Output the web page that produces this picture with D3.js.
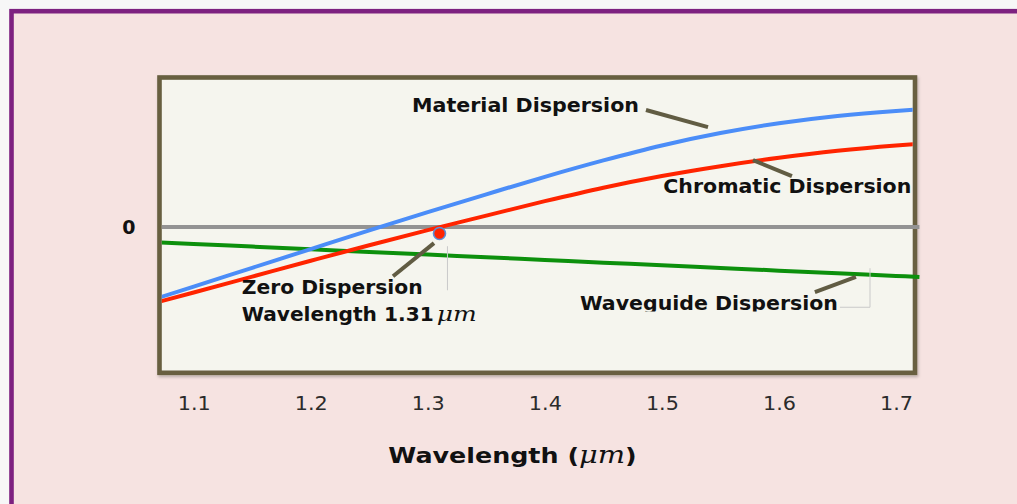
<!DOCTYPE html>
<html>
<head>
<meta charset="utf-8">
<script src="https://cdn.jsdelivr.net/npm/d3@7"></script>
<style>
  html, body { margin: 0; padding: 0; background: #f7f7f7; }
  svg { display: block; }
</style>
</head>
<body>
<svg id="chart" width="1017" height="504"></svg>
<script>
// Wavelength samples (µm) and dispersion curves (arbitrary units, 0 = no dispersion)
const wavelengths = [1.07, 1.10, 1.15, 1.20, 1.25, 1.30, 1.35, 1.40, 1.45, 1.50, 1.55, 1.60, 1.65, 1.70, 1.72];
const materialDispersion = [-9.71, -8.17, -5.60, -3.03, -0.47, 2.03, 4.48, 6.88, 9.13, 11.18, 12.88, 14.23, 15.23, 15.91, 16.12];
const chromaticDispersion = [-10.27, -8.98, -6.81, -4.64, -2.50, -0.43, 1.55, 3.54, 5.39, 6.99, 8.34, 9.49, 10.44, 11.16, 11.40];
const waveguideDispersion = [-2.11, -2.32, -2.69, -3.06, -3.42, -3.79, -4.15, -4.52, -4.89, -5.24, -5.62, -5.99, -6.34, -6.71, -6.85];
const zeroLevel = [0, 0, 0, 0, 0, 0, 0, 0, 0, 0, 0, 0, 0, 0, 0];

const xTickValues = [1.1, 1.2, 1.3, 1.4, 1.5, 1.6, 1.7];
const yTickValues = [0];

const zeroWavelength = 1.31;   // µm
const zeroMarkerValue = -0.9;

const svg = d3.select("#chart");
const W = 1017, H = 504;

// plot frame geometry
const frame = { left: 159.5, top: 77.5, right: 915, bottom: 372.8, stroke: 4.6 };
const inner = { left: frame.left + 2.3, right: frame.right - 2.3, top: frame.top + 2.3, bottom: frame.bottom - 2.3 };

const x = d3.scaleLinear().domain([1.1, 1.7]).range([193.7, 896]);
const y = d3.scaleLinear().domain([-20, 20.5]).range([frame.bottom, frame.top]);

const defs = svg.append("defs");
defs.append("clipPath").attr("id", "clip-inner")
  .append("rect").attr("x", inner.left).attr("y", inner.top)
  .attr("width", inner.right - inner.left).attr("height", inner.bottom - inner.top);
defs.append("clipPath").attr("id", "clip-overlay")
  .append("rect").attr("x", inner.left).attr("y", inner.top)
  .attr("width", 921 - inner.left).attr("height", inner.bottom - inner.top);
const shadow = defs.append("filter").attr("id", "frame-shadow")
  .attr("x", "-5%").attr("y", "-5%").attr("width", "110%").attr("height", "115%");
shadow.append("feDropShadow").attr("dx", 1).attr("dy", 2).attr("stdDeviation", 1.5)
  .attr("flood-color", "#000").attr("flood-opacity", 0.25);

// outer panel with purple border
svg.append("rect").attr("x", 0).attr("y", 0).attr("width", W).attr("height", H).attr("fill", "#f7f7f7");
svg.append("rect")
  .attr("x", 11.5).attr("y", 11.2).attr("width", 1100).attr("height", 1000)
  .attr("fill", "#f6e3e1").attr("stroke", "#7d2180").attr("stroke-width", 4.6);

// plot area
svg.append("rect")
  .attr("x", frame.left).attr("y", frame.top)
  .attr("width", frame.right - frame.left).attr("height", frame.bottom - frame.top)
  .attr("fill", "#f5f5ee").attr("stroke", "#675f40").attr("stroke-width", frame.stroke)
  .attr("filter", "url(#frame-shadow)");

const line = d3.line()
  .x((d, i) => x(wavelengths[i]))
  .y(d => y(d))
  .curve(d3.curveMonotoneX);

const overlay = svg.append("g").attr("clip-path", "url(#clip-overlay)");
const innerG = svg.append("g").attr("clip-path", "url(#clip-inner)");

overlay.append("path").attr("d", line(zeroLevel))
  .attr("fill", "none").attr("stroke", "#939393").attr("stroke-width", 4);
overlay.append("path").attr("d", line(waveguideDispersion))
  .attr("fill", "none").attr("stroke", "#0c900c").attr("stroke-width", 4);
innerG.append("path").attr("d", line(materialDispersion))
  .attr("fill", "none").attr("stroke", "#4b8df8").attr("stroke-width", 4);
innerG.append("path").attr("d", line(chromaticDispersion))
  .attr("fill", "none").attr("stroke", "#ff2400").attr("stroke-width", 4);

// faint outlines left from the label boxes
const boxEdges = [
  [[1.3168, -2.64], [1.3168, -8.68]],
  [[1.6778, -5.66], [1.6778, -11.01]],
  [[1.6521, -11.01], [1.6778, -11.01]]
];
svg.append("g").selectAll("line").data(boxEdges).join("line")
  .attr("x1", d => x(d[0][0])).attr("y1", d => y(d[0][1]))
  .attr("x2", d => x(d[1][0])).attr("y2", d => y(d[1][1]))
  .attr("stroke", "#c9c9c9").attr("stroke-width", 1);

// zero-dispersion marker
svg.append("circle")
  .attr("cx", x(zeroWavelength)).attr("cy", y(zeroMarkerValue)).attr("r", 6)
  .attr("fill", "#ff2400").attr("stroke", "#5a8ed8").attr("stroke-width", 1.6);

// annotations: label text + leader line, placed in data coordinates
// each text run: string, width in px, horizontal offset from the label anchor, optional math style
const annotations = [
  { lines: [[{ t: "Material Dispersion", w: 227, dx: 0 }]], at: [1.2865, 15.80], leader: [[1.4864, 16.04], [1.5394, 13.70]] },
  { lines: [[{ t: "Chromatic Dispersion", w: 248, dx: 0 }]], at: [1.5012, 4.60], leader: [[1.5778, 9.17], [1.6111, 6.97]], clipBottom: true },
  { lines: [[{ t: "Zero Dispersion", w: 181, dx: 0 }],
            [{ t: "Wavelength 1.31", w: 192, dx: 0 }, { t: "μm", w: 40, dx: 195, math: true }]],
    at: [1.1410, -9.23], leader: [[1.3053, -2.22], [1.2703, -6.75]] },
  { lines: [[{ t: "Waveguide Dispersion", w: 258, dx: 0 }]], at: [1.4300, -11.42], leader: [[1.6658, -6.86], [1.6307, -8.92]], clipBottom: true }
];

const annG = svg.append("g");
annotations.forEach((a, k) => {
  annG.append("line")
    .attr("x1", x(a.leader[0][0])).attr("y1", y(a.leader[0][1]))
    .attr("x2", x(a.leader[1][0])).attr("y2", y(a.leader[1][1]))
    .attr("stroke", "#615c43").attr("stroke-width", 4);
  const x0 = x(a.at[0]), y0 = y(a.at[1]);
  const g = annG.append("g");
  if (a.clipBottom) {
    defs.append("clipPath").attr("id", "clip-label-" + k)
      .append("rect").attr("x", x0 - 5).attr("y", y0 - 30).attr("width", 400).attr("height", 31.2);
    g.attr("clip-path", "url(#clip-label-" + k + ")");
  }
  a.lines.forEach((runs, li) => {
    runs.forEach(r => {
      const txt = g.append("text")
        .attr("x", x0 + r.dx).attr("y", y0 + li * 26.7)
        .attr("fill", "#111")
        .text(r.t)
        .attr("textLength", r.w).attr("lengthAdjust", "spacingAndGlyphs");
      if (r.math) {
        txt.attr("font-family", "DejaVu Serif, serif").attr("font-style", "italic").attr("font-size", 20);
      } else {
        txt.attr("font-family", "DejaVu Sans, Verdana, sans-serif").attr("font-weight", "bold").attr("font-size", 19.5);
      }
    });
  });
});

// x axis labels
const xAxis = svg.append("g")
  .attr("transform", `translate(0,${frame.bottom})`)
  .call(d3.axisBottom(x).tickValues(xTickValues).tickSize(0).tickPadding(24).tickFormat(d3.format(".1f")));
xAxis.select(".domain").remove();
xAxis.selectAll("text")
  .attr("font-family", "DejaVu Sans, Verdana, sans-serif").attr("font-size", 19)
  .attr("fill", "#2b2b2b").attr("textLength", 33).attr("lengthAdjust", "spacingAndGlyphs");

// y axis: only the zero level is labelled
const yAxis = svg.append("g")
  .attr("transform", `translate(${frame.left},0)`)
  .call(d3.axisLeft(y).tickValues(yTickValues).tickSize(0).tickPadding(24).tickFormat(d3.format("d")));
yAxis.select(".domain").remove();
yAxis.selectAll("text")
  .attr("font-family", "DejaVu Sans, Verdana, sans-serif").attr("font-size", 19)
  .attr("font-weight", "bold").attr("fill", "#111");

// x axis title
const title = svg.append("text")
  .attr("x", 388.3).attr("y", 463.3)
  .attr("font-family", "DejaVu Sans, Verdana, sans-serif")
  .attr("font-weight", "bold").attr("font-size", 22).attr("fill", "#111");
title.append("tspan").text("Wavelength (");
title.append("tspan").text("μm").attr("font-family", "DejaVu Serif, serif")
  .attr("font-style", "italic").attr("font-weight", "normal").attr("font-size", 25);
title.append("tspan").text(")");
title.attr("textLength", 248.4).attr("lengthAdjust", "spacingAndGlyphs");
</script>
</body>
</html>
